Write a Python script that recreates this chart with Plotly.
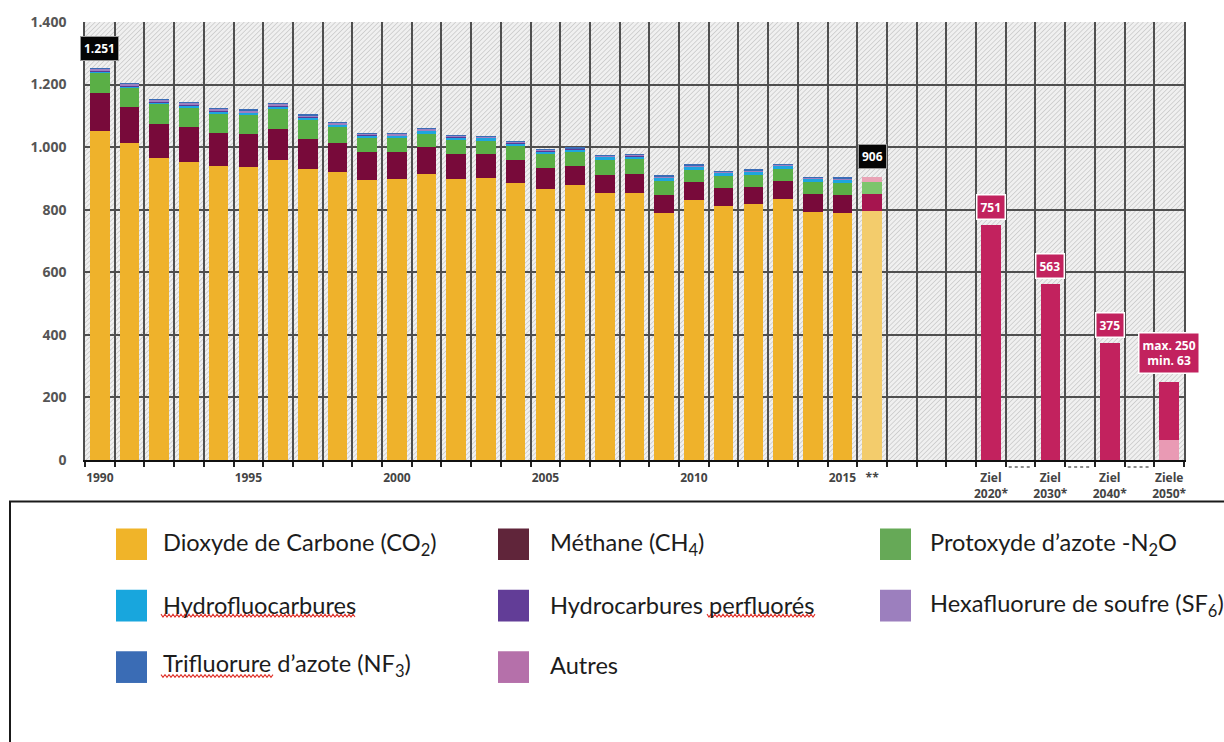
import base64
import plotly.graph_objects as go

# --- Treibhausgas-Emissionen, Mio. t CO2-Äquivalente -------------------------
years = ["1990", "1991", "1992", "1993", "1994", "1995", "1996", "1997", "1998",
         "1999", "2000", "2001", "2002", "2003", "2004", "2005", "2006", "2007",
         "2008", "2009", "2010", "2011", "2012", "2013", "2014", "2015", "2016"]

co2 = [1052, 1014, 966, 954, 940, 938, 958, 931, 922, 894, 897, 915, 897, 900,
       887, 866, 878, 852, 855, 789, 832, 811, 817, 835, 794, 791, 797]
ch4 = [120, 114, 109, 110, 105, 103, 101, 96, 92, 92, 89, 84, 81, 77, 71, 67,
       63, 60, 59, 58, 58, 57, 56, 56, 56, 56, 54]
n2o = [67, 63, 65, 64, 64, 61, 62, 60, 49, 43, 43, 44, 44, 43, 45, 44, 43, 47,
       47, 46, 37, 40, 38, 39, 39, 40, 39]
hfc = [4, 4, 4, 6, 6, 8, 9, 8, 8, 9, 8, 10, 10, 10, 10, 10, 10, 10, 10, 10, 11,
       10, 11, 11, 10, 10, 0]
pfc = [3, 3, 3, 3, 2, 2, 2, 2, 2, 1, 1, 1, 1, 1, 1, 1, 1, 1, 1, 1, 1, 1, 1, 1,
       1, 1, 0]
sf6 = [4, 5, 5, 6, 6, 6, 7, 5, 5, 5, 4, 4, 3, 3, 3, 3, 2, 2, 3, 3, 3, 3, 3, 3,
       3, 3, 0]
nf3 = [1, 1, 1, 1, 1, 1, 1, 1, 1, 1, 1, 1, 1, 1, 1, 1, 1, 1, 1, 1, 1, 1, 1, 1,
       1, 1, 0]
autres = [0, 0, 0, 0, 0, 0, 0, 0, 0, 0, 0, 0, 0, 0, 0, 0, 0, 0, 0, 0, 0, 0, 0,
          0, 0, 0, 16]

# Ziele
ziel_cats = ["Ziel 2020", "Ziel 2030", "Ziel 2040", "Ziele 2050"]
ziel_max = [751, 563, 375, 250]
ziel_min = [None, None, None, 63]

# leere Spalten zwischen Ist-Werten und Zielen
spacer_cats = ["s1", "s2", "s3"]
gap_cats = ["g1", "g2", "g3"]

categories = (years + spacer_cats
              + [ziel_cats[0], gap_cats[0], ziel_cats[1], gap_cats[1],
                 ziel_cats[2], gap_cats[2], ziel_cats[3]])

tick_text = ["1990", "", "", "", "", "1995", "", "", "", "", "2000", "", "", "",
             "", "2005", "", "", "", "", "2010", "", "", "", "", "2015", "**",
             "", "", "",
             "Ziel<br>2020*", "", "Ziel<br>2030*", "", "Ziel<br>2040*", "",
             "Ziele<br>2050*"]

y_ticks = [0, 200, 400, 600, 800, 1000, 1200, 1400]

# (Legendentext, Werte, Farbe, Farbe Schätzung 2016, Farbe Legende)
series = [
    ("Dioxyde de Carbone (CO<sub>2</sub>)", co2, "#efb22b", "#f3cc6c", "#f0b429"),
    ("Méthane (CH<sub>4</sub>)", ch4, "#780a3a", "#a6154f", "#60253a"),
    ("Protoxyde d’azote -N<sub>2</sub>O", n2o, "#5aaf46", "#7dc56c", "#66a957"),
    ("Hydrofluocarbures", hfc, "#1ea5de", "#1ea5de", "#18a6dd"),
    ("Hydrocarbures perfluorés", pfc, "#5b3a96", "#5b3a96", "#623d97"),
    ("Hexafluorure de soufre (SF<sub>6</sub>)", sf6, "#9d80c0", "#9d80c0", "#9c7fbe"),
    ("Trifluorure d’azote (NF<sub>3</sub>)", nf3, "#3a6cb6", "#3a6cb6", "#3a6cb5"),
    ("Autres", autres, "#b370aa", "#e9a2b5", "#b570aa"),
]

ZIEL_COLOR = "#c2225e"
ZIEL_MIN_COLOR = "#e99ab4"
GRID = "#4f4f4f"
FONT = "Open Sans"

fig = go.Figure()

n_years = len(years)
for name, values, color, forecast_color, _ in series:
    colors = [color] * (n_years - 1) + [forecast_color]
    fig.add_trace(go.Bar(
        x=years, y=values, name=name,
        marker=dict(color=colors, line=dict(width=0)),
        showlegend=False, hoverinfo="x+y+name",
    ))

# Zielwerte: 2050 als Spanne (min. unten hell, bis max. oben)
ziel_upper = [m - (lo or 0) for m, lo in zip(ziel_max, ziel_min)]
fig.add_trace(go.Bar(
    x=ziel_cats, y=ziel_min, name="Ziel (min.)",
    marker=dict(color=ZIEL_MIN_COLOR, line=dict(width=0)), showlegend=False,
))
fig.add_trace(go.Bar(
    x=ziel_cats, y=ziel_upper, name="Ziel",
    marker=dict(color=ZIEL_COLOR, line=dict(width=0)), showlegend=False,
))

# --- Plotbereich in Pixeln --------------------------------------------------
W, H = 1224, 742
L, R, T, B = 85, 1184, 18, 460
PW, PH = R - L, B - T


def px(x):
    return (x - L) / PW


def py(y):
    return (B - y) / PH


# schraffierter Hintergrund als SVG-Muster
step = 3.4
hatch_svg = (
    f'<svg xmlns="http://www.w3.org/2000/svg" width="{PW}" height="{PH}">'
    f'<defs><pattern id="h" width="{step}" height="{step}" '
    f'patternUnits="userSpaceOnUse" patternTransform="rotate(45)">'
    f'<rect width="{step}" height="{step}" fill="#f0f0f0"/>'
    f'<line x1="0" y1="0" x2="0" y2="{step}" stroke="#c2c2c2" stroke-width="1.3"/>'
    f'</pattern></defs><rect width="100%" height="100%" fill="url(#h)"/></svg>'
)
hatch_uri = "data:image/svg+xml;base64," + base64.b64encode(hatch_svg.encode()).decode()

fig.add_layout_image(dict(
    source=hatch_uri, xref="paper", yref="paper", x=0, y=1, sizex=1, sizey=1,
    xanchor="left", yanchor="top", sizing="stretch", layer="below",
))


def de(v):
    return f"{v:,}".replace(",", ".")


totals = [sum(s[1][i] for s in series) for i in range(n_years)]

annotations = []
# Summenwerte (schwarz) – Position über den Kategorie-Index
for idx in (0, n_years - 1):
    annotations.append(dict(
        x=categories.index(years[idx]), y=totals[idx],
        text=f"<b>{de(totals[idx])}</b>",
        showarrow=False, yanchor="bottom", yshift=8,
        bgcolor="#050505", bordercolor="#9a9a9a", borderwidth=1, borderpad=3,
        font=dict(family=FONT, size=12, color="white"),
    ))

# Zielwerte (magenta)
for cat, mx, lo in zip(ziel_cats, ziel_max, ziel_min):
    label = f"<b>{de(mx)}</b>" if lo is None else f"<b>max. {de(mx)}<br>min. {de(lo)}</b>"
    annotations.append(dict(
        x=categories.index(cat), y=mx, text=label, showarrow=False, yanchor="bottom",
        yshift=5 if lo is None else 8,
        bgcolor=ZIEL_COLOR, bordercolor="white", borderwidth=1.5, borderpad=3,
        font=dict(family=FONT, size=12, color="white"),
    ))

shapes = []
# gepunktete Markierung unter den Lücken zwischen den Zielen
for g in gap_cats:
    i = categories.index(g)
    shapes.append(dict(
        type="line", xref="x", yref="paper", x0=i - 0.4, x1=i + 0.4,
        y0=py(467), y1=py(467), line=dict(color="#666666", width=1.5, dash="dot"),
    ))

# Rahmen der Legende
shapes.append(dict(
    type="rect", xref="paper", yref="paper", x0=px(10), x1=px(1260),
    y0=py(502), y1=py(780), line=dict(color="#1a1a1a", width=2), fillcolor="rgba(0,0,0,0)",
))

# Legende: 3 Spalten
swatch_x = [116, 498, 880]
text_x = [161, 548, 928]
swatch_y = [545, 607, 669]
text_y = [545, 606, 667]
for k, (name, _, _, _, legend_color) in enumerate(series):
    r, c = divmod(k, 3)
    shapes.append(dict(
        type="rect", xref="paper", yref="paper",
        x0=px(swatch_x[c]), x1=px(swatch_x[c] + 31),
        y0=py(swatch_y[r] - 16), y1=py(swatch_y[r] + 16),
        line=dict(width=0), fillcolor=legend_color,
    ))
    annotations.append(dict(
        x=px(text_x[c]), y=py(text_y[r]), xref="paper", yref="paper",
        text=name, showarrow=False, xanchor="left", yanchor="middle",
        font=dict(family="Lato", size=23.6, color="#1c1c1c"),
    ))


# Rechtschreib-Wellenlinien unter einzelnen Wörtern
def squiggle(x0, x1, y, period=4.0, amp=1.4):
    pts = []
    x, up = x0, True
    while x <= x1:
        pts.append((x, y - amp if up else y + amp))
        x += period / 2
        up = not up
    d = "M" + " L".join(f"{px(a):.5f},{py(b):.5f}" for a, b in pts)
    return dict(type="path", xref="paper", yref="paper", path=d,
                line=dict(color="#e0342c", width=1.1))


for x0, x1, y in ((161, 355, 617), (707, 815, 617), (161, 273, 678)):
    shapes.append(squiggle(x0, x1, y))

fig.update_layout(
    width=W, height=H,
    margin=dict(l=L, r=W - R, t=T, b=H - B, pad=0),
    paper_bgcolor="white", plot_bgcolor="#f0f0f0",
    barmode="stack", bargap=0.34,
    separators=",.",
    font=dict(family=FONT, color="#4a4a4a"),
    annotations=annotations, shapes=shapes,
    showlegend=False,
)

fig.update_xaxes(
    type="category", categoryorder="array", categoryarray=categories,
    tickmode="array", tickvals=categories, ticktext=tick_text,
    tickson="boundaries", range=[-0.5, len(categories) - 0.5],
    showgrid=True, gridcolor=GRID, gridwidth=1.6,
    ticks="outside", ticklen=5, tickwidth=1.6, tickcolor="#222222",
    showline=True, linecolor="#111111", linewidth=2,
    ticklabelstandoff=6,
    tickfont=dict(family=FONT, size=12, color="#444444", weight="bold"),
    tickangle=0,
)
fig.update_yaxes(
    range=[0, 1400], tickvals=y_ticks, tickformat=",d",
    showgrid=True, gridcolor=GRID, gridwidth=1.6,
    zeroline=False, showline=True, linecolor=GRID, linewidth=1.6, mirror=True,
    ticks="", ticklabelstandoff=14,
    tickfont=dict(family=FONT, size=14, color="#555555", weight="bold"),
)

fig.write_html("out.html")
